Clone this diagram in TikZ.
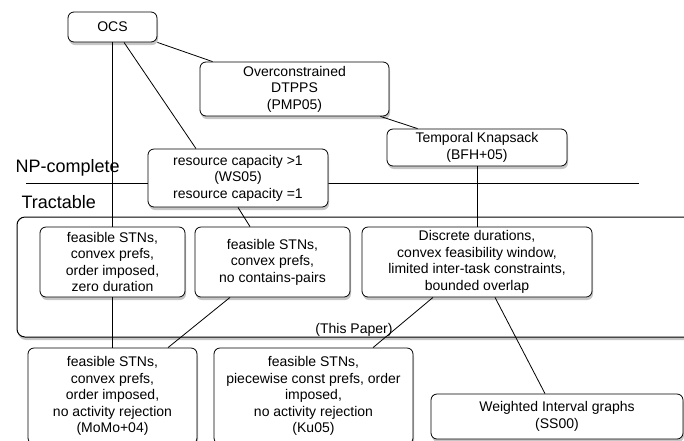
\documentclass[tikz,border=0pt]{standalone}
\usepackage{fontspec}
\setmainfont{Liberation Sans}
\usetikzlibrary{positioning,shadows}

\begin{document}
\begin{tikzpicture}[x=1pt,y=-1pt,
    box/.style={draw, rounded corners=6pt, fill=white, align=center, line width=0.8pt,
      inner sep=2pt, font=\fontsize{14}{16.5}\selectfont,
      drop shadow={shadow xshift=1pt, shadow yshift=-3pt, opacity=0.45}},
    big/.style={font=\fontsize{18}{20}\selectfont},
    link/.style={line width=0.8pt}]
    \useasboundingbox (0,0) rectangle (684,440);
    \clip (0,0) rectangle (684,440);

    % region of this paper
    \draw[rounded corners=8pt, line width=1pt, fill=white,
      drop shadow={shadow xshift=1pt, shadow yshift=-3pt, opacity=0.45}]
      (17,217) rectangle (720,337);
    \node[font=\fontsize{14}{16.5}\selectfont] (paper) at (354,330) {(This Paper)};

    % complexity border
    \draw[link] (26,183) -- (639,183);
    \node[big, anchor=base west] (np) at (12,172) {NP-complete};
    \node[big, anchor=base west] (tract) at (18,208) {Tractable};

    \node[box, minimum width=89pt, minimum height=30pt] (ocs) at (112.5,27) {OCS};
    \node[box, minimum width=189pt, minimum height=54pt] (over) at (294.5,89)
      {Overconstrained\\DTPPS\\(PMP05)};
    \node[box, minimum width=180pt, minimum height=37pt] (knap) at (477,147.5)
      {Temporal Knapsack\\(BFH+05)};
    \node[box, minimum width=180pt, minimum height=58pt] (res) at (238,178)
      {resource capacity >1\\(WS05)\\resource capacity =1};

    \node[box, minimum width=145pt, minimum height=70pt] (zero) at (112.5,262)
      {feasible STNs,\\convex prefs,\\order imposed,\\zero duration};
    \node[box, minimum width=155pt, minimum height=70pt] (pairs) at (272.5,262)
      {feasible STNs,\\convex prefs,\\no contains-pairs};
    \node[box, minimum width=230pt, minimum height=70pt] (disc) at (477,262)
      {Discrete durations,\\convex feasibility window,\\limited inter-task constraints,\\bounded overlap};

    \node[box, minimum width=169pt, minimum height=96pt] (momo) at (112.5,396)
      {feasible STNs,\\convex prefs,\\order imposed,\\no activity rejection\\(MoMo+04)};
    \node[box, minimum width=199pt, minimum height=96pt] (ku) at (313.5,396)
      {feasible STNs,\\piecewise const prefs, order\\imposed,\\no activity rejection\\(Ku05)};
    \node[box, minimum width=252pt, minimum height=45pt] (wig) at (557,416.5)
      {Weighted Interval graphs\\(SS00)};

    \draw[link] (ocs.south east) -- ([xshift=13pt]over.north west);
    \draw[link] (ocs.south) -- (zero.north);
    \draw[link] ([xshift=11.5pt]ocs.south) -- ([xshift=-42pt]res.north);
    \draw[link] ([xshift=-9pt]over.south east) -- ([xshift=31pt]knap.north west);
    \draw[link] (res.south) -- ([xshift=-22.5pt]pairs.north);
    \draw[link] (knap.south) -- (disc.north);
    \draw[link] (zero.south) -- (momo.north);
    \draw[link] ([xshift=-42.5pt]pairs.south) -- ([xshift=55.5pt]momo.north);
    \draw[link] ([xshift=-44pt]disc.south) -- ([xshift=59.5pt]ku.north);
    \draw[link] ([xshift=18pt]disc.south) -- ([xshift=-12pt]wig.north);
\end{tikzpicture}
\end{document}
